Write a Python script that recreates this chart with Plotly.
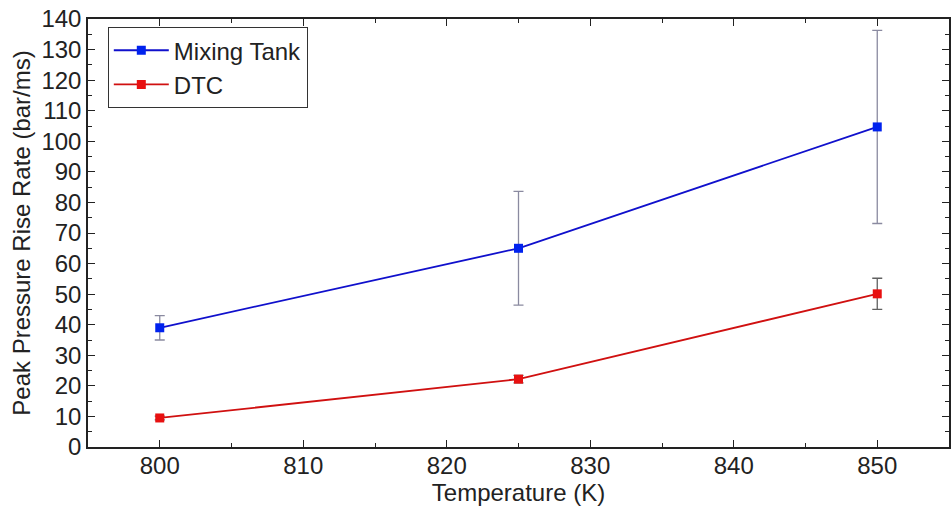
import plotly.graph_objects as go

temps = [800, 825, 850]
mixing_tank = [39, 65, 104.7]
mixing_tank_err = [4, 18.6, 31.6]
dtc = [9.5, 22.2, 50.1]
dtc_err = [0.6, 1.2, 5.1]

fig = go.Figure()
fig.add_trace(go.Scatter(
    x=temps, y=mixing_tank, name="Mixing Tank", mode="lines+markers",
    line=dict(color="#1010CC", width=1.8),
    marker=dict(symbol="square", size=9, color="#0022EE"),
    error_y=dict(type="data", array=mixing_tank_err, color="#8A8AA0", thickness=1.3, width=5),
))
fig.add_trace(go.Scatter(
    x=temps, y=dtc, name="DTC", mode="lines+markers",
    line=dict(color="#D01010", width=1.8),
    marker=dict(symbol="square", size=9, color="#E81010"),
    error_y=dict(type="data", array=dtc_err, color="#606060", thickness=1.3, width=5),
))

fnt = dict(family="Arial, Liberation Sans, sans-serif", size=24, color="#222")
fig.update_layout(
    width=951, height=512,
    margin=dict(l=88, r=0, t=19, b=65),
    paper_bgcolor="white", plot_bgcolor="white",
    font=fnt,
    showlegend=True,
    legend=dict(x=0.023, y=0.981, xanchor="left", yanchor="top",
                bordercolor="#333", borderwidth=1, bgcolor="white",
                font=dict(size=24), tracegroupgap=0, itemwidth=55),
    xaxis=dict(
        range=[795, 855], tickvals=[800, 810, 820, 830, 840, 850],
        showline=True, linecolor="#222", linewidth=1.5, mirror="ticks",
        ticks="inside", ticklen=7, tickcolor="#222", tickwidth=1.3,
        minor=dict(dtick=5, tick0=795, ticks="inside", ticklen=4, tickcolor="#222"),
        showgrid=False, zeroline=False,
        ticklabelstandoff=-4,
        title=dict(text="Temperature (K)", font=fnt, standoff=6),
        tickfont=fnt,
    ),
    yaxis=dict(
        range=[0, 140], dtick=10,
        showline=True, linecolor="#222", linewidth=1.5, mirror="ticks",
        ticks="inside", ticklen=7, tickcolor="#222", tickwidth=1.3,
        minor=dict(dtick=5, ticks="inside", ticklen=4, tickcolor="#222"),
        showgrid=False, zeroline=False,
        title=dict(text="Peak Pressure Rise Rate (bar/ms)", font=fnt, standoff=4),
        tickfont=fnt,
    ),
)

fig.write_html("out.html")
